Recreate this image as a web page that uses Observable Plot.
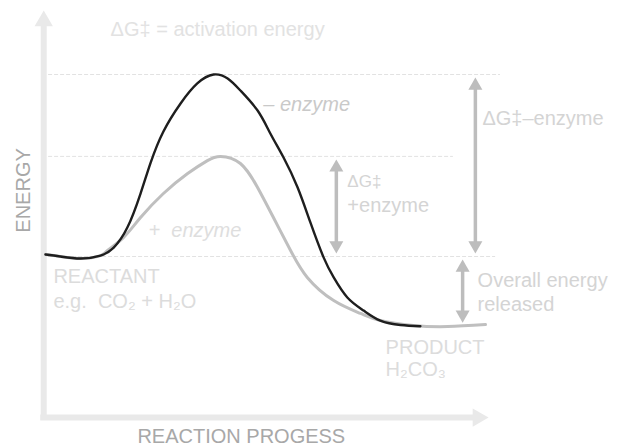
<!DOCTYPE html>
<html>
<head>
<meta charset="utf-8">
<script src="https://cdn.jsdelivr.net/npm/d3@7"></script>
<script src="https://cdn.jsdelivr.net/npm/@observablehq/plot@0.6"></script>
<style>
  html, body { margin: 0; padding: 0; background: #fff; }
  #chart { width: 619px; height: 447px; overflow: hidden; }
</style>
</head>
<body>
<div id="chart"></div>
<script>
// ---- Data (reaction progress 0–100, energy relative: reactant = 0, uncatalysed peak = 100) ----
const progressNoEnzyme = [0, 3.4, 8, 12.5, 15.5, 18.6, 21.6, 23.9, 26.8, 30.7, 34.5, 38.2, 41.4, 44.3, 48.2, 51.1, 54.1, 57.3, 60.2, 63.2, 65.5, 68.6, 72.3, 76.1, 80.7, 85.2];
const energyNoEnzyme   = [1.1, 0, -1.1, 0.5, 4.9, 15.9, 34.6, 51.6, 68.7, 84.1, 95.1, 100, 97.8, 91.2, 80.2, 67.6, 54.4, 37.9, 18.7, -0.5, -11.5, -22.5, -29.7, -35.2, -37.6, -38.3];

const progressEnzyme = [0, 3.4, 8, 12.5, 14.1, 17.7, 21.6, 26.8, 32.3, 36.8, 39.8, 44.3, 48.2, 51.8, 55.7, 59.5, 65.5, 71.6, 76.1, 83.6, 91.4, 100];
const energyEnzyme   = [1.1, 0, -1.1, 0.5, 3.3, 10.4, 21.4, 34.6, 45.6, 52.7, 55, 51.1, 37.9, 21.4, 3.3, -11.5, -24.2, -31.3, -35.2, -37.9, -38.5, -37.4];

// Reference energy levels (uncatalysed peak, catalysed peak, reactant) and where their guide lines end
const levelEnergy = [100, 55, 0];
const levelStart  = [0.7, 0.7, 0.7];
const levelEnd    = [103.4, 92.7, 102.3];

// Double-headed energy-difference arrows
const arrowProgress = [97.7, 66.1, 94.8];
const arrowHigh     = [100, 55, 0];
const arrowLow      = [0, 0, -38];

// Axis frame (in data units)
const axisOriginProgress = -0.4;
const axisOriginEnergy = -88.5;
const axisTopEnergy = 135.2;
const axisRightProgress = 100.7;

// Text
const titleText = ["ΔG‡ = activation energy"];
const titleProgress = [14.8];
const titleEnergy = [124.9];

const curveLabelText = ["–\u00a0enzyme", "+\u00a0\u00a0enzyme"];
const curveLabelProgress = [49.5, 23.4];
const curveLabelEnergy = [83.7, 14.5];

const arrowLabelText = ["ΔG‡–enzyme", "ΔG‡", "+enzyme", "Overall energy", "released"];
const arrowLabelProgress = [99.3, 68.6, 68.6, 98.2, 98.2];
const arrowLabelEnergy = [76, 41, 27.7, -13.5, -26.2];

const stateText = ["REACTANT", "e.g.\u00a0\u00a0CO₂ + H₂O", "PRODUCT", "H₂CO₃"];
const stateProgress = [1.8, 1.8, 77.3, 77.3];
const stateEnergy = [-11.3, -25, -49.8, -61.9];

const xTitle = "REACTION PROGESS";
const yTitle = "ENERGY";

// ---- Build tables ----
const noEnzyme = progressNoEnzyme.map((p, i) => ({progress: p, energy: energyNoEnzyme[i]}));
const withEnzyme = progressEnzyme.map((p, i) => ({progress: p, energy: energyEnzyme[i]}));
const levels = levelEnergy.map((e, i) => ({energy: e, x1: levelStart[i], x2: levelEnd[i]}));
const arrows = arrowProgress.map((p, i) => ({progress: p, high: arrowHigh[i], low: arrowLow[i]}));
const title = titleText.map((t, i) => ({text: t, progress: titleProgress[i], energy: titleEnergy[i]}));
const curveLabels = curveLabelText.map((t, i) => ({text: t, progress: curveLabelProgress[i], energy: curveLabelEnergy[i]}));
const arrowLabels = arrowLabelText.map((t, i) => ({text: t, progress: arrowLabelProgress[i], energy: arrowLabelEnergy[i]}));
const states = stateText.map((t, i) => ({text: t, progress: stateProgress[i], energy: stateEnergy[i]}));

const arrowGray = "#bdbdbd";
const axisGray = "#e9e9e9";
const inset = 3;       // gap between arrow tip and level line
const headR = 5.2;     // triangle head "radius"
const headOff = 2 * Math.sqrt(Math.PI * headR * headR / (3 * Math.sqrt(3)));
const axisHeadR = 6.8;
const axisHeadOff = 2 * Math.sqrt(Math.PI * axisHeadR * axisHeadR / (3 * Math.sqrt(3)));

const chart = Plot.plot({
  width: 619,
  height: 447,
  marginTop: 0, marginRight: 0, marginBottom: 0, marginLeft: 0,
  x: {domain: [0, 100], range: [45, 485], axis: null},
  y: {domain: [0, 100], range: [256, 74], axis: null},
  style: {fontFamily: "'Liberation Sans', Arial, sans-serif", background: "#fff"},
  marks: [
    // axes with arrowheads
    Plot.ruleX([axisOriginProgress], {y1: axisTopEnergy, y2: axisOriginEnergy, insetTop: axisHeadOff * 1.4, insetBottom: -3, stroke: axisGray, strokeWidth: 6}),
    Plot.ruleY([axisOriginEnergy], {x1: axisOriginProgress, x2: axisRightProgress, insetLeft: -3, insetRight: axisHeadOff * 1.4, stroke: axisGray, strokeWidth: 6}),
    Plot.dot([0], {x: axisOriginProgress, y: axisTopEnergy, symbol: "triangle", r: axisHeadR, fill: axisGray, dy: axisHeadOff}),
    Plot.dot([0], {x: axisRightProgress, y: axisOriginEnergy, symbol: "triangle", r: axisHeadR, fill: axisGray, rotate: 90, dx: -axisHeadOff}),

    // dashed level guides
    Plot.ruleY(levels, {y: "energy", x1: "x1", x2: "x2", stroke: "#e2e2e2", strokeWidth: 1, strokeDasharray: "4,2"}),

    // curves
    Plot.line(withEnzyme, {x: "progress", y: "energy", curve: "natural", stroke: "#bfbfbf", strokeWidth: 3}),
    Plot.line(noEnzyme, {x: "progress", y: "energy", curve: "natural", stroke: "#1e1e1e", strokeWidth: 2.4}),

    // double-headed arrows
    Plot.ruleX(arrows, {x: "progress", y1: "high", y2: "low", insetTop: inset + headOff, insetBottom: inset + headOff, stroke: arrowGray, strokeWidth: 3.5}),
    Plot.dot(arrows, {x: "progress", y: "high", symbol: "triangle", r: headR, fill: arrowGray, dy: inset + headOff}),
    Plot.dot(arrows, {x: "progress", y: "low", symbol: "triangle", r: headR, fill: arrowGray, rotate: 180, dy: -(inset + headOff)}),

    // text
    Plot.text(title, {x: "progress", y: "energy", text: "text", textAnchor: "start", lineAnchor: "middle", fontSize: 20, fill: "#e2e2e2"}),
    Plot.text(curveLabels, {x: "progress", y: "energy", text: "text", textAnchor: "start", lineAnchor: "middle", fontSize: 20, fontStyle: "italic", fill: (d, i) => i === 0 ? "#c9c9c9" : "#dedede"}),
    Plot.text(arrowLabels, {x: "progress", y: "energy", text: "text", textAnchor: "start", lineAnchor: "middle", fontSize: (d, i) => i === 1 ? 17 : 20, fill: "#d4d4d4"}),
    Plot.text(states, {x: "progress", y: "energy", text: "text", textAnchor: "start", lineAnchor: "middle", fontSize: 20, fill: "#dcdcdc"}),
    Plot.text([xTitle], {x: 44.5, y: -99.2, text: d => d, textAnchor: "middle", lineAnchor: "middle", fontSize: 20, fill: "#a8a8a8"}),
    Plot.text([yTitle], {x: -4.9, y: 36.3, text: d => d, textAnchor: "middle", lineAnchor: "middle", rotate: -90, fontSize: 20, fill: "#a8a8a8"})
  ]
});
document.getElementById("chart").appendChild(chart);
</script>
</body>
</html>
